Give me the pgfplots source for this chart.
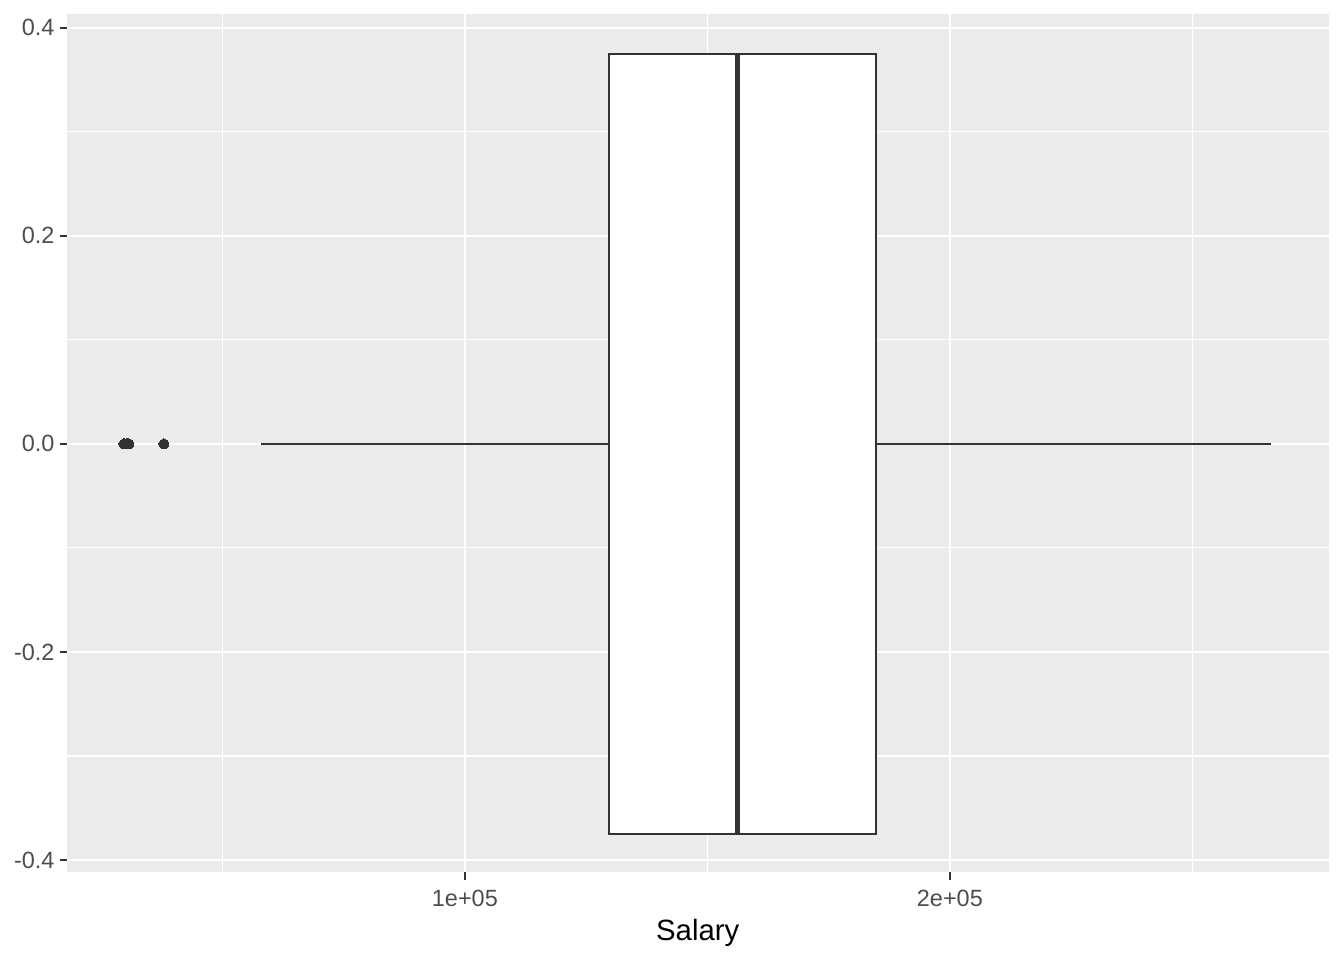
\documentclass[border=0pt]{standalone}
\usepackage{pgfplots}
\pgfplotsset{compat=1.18}
\usepgfplotslibrary{statistics}
\usepackage{fontspec}
\setmainfont{Liberation Sans}
\definecolor{ggbg}{HTML}{EBEBEB}
\definecolor{gg20}{HTML}{333333}
\definecolor{gg30}{HTML}{4D4D4D}
\begin{document}
\begin{tikzpicture}
\useasboundingbox (0,0) rectangle (504pt,360pt);
\begin{axis}[
  at={(25.1pt,32.9pt)}, anchor=south west,
  scale only axis, width=473.1pt, height=321.9pt,
  xmin=17938, xmax=278082, ymin=-0.41183, ymax=0.41346,
  axis background/.style={fill=ggbg},
  axis line style={draw=none},
  xtick={100000,200000}, xticklabels={1e+05,2e+05},
  minor xtick={50000,150000,250000},
  ytick={-0.4,-0.2,0,0.2,0.4}, yticklabels={-0.4,-0.2,0.0,0.2,0.4},
  minor ytick={-0.3,-0.1,0.1,0.3},
  xtick pos=lower, ytick pos=left,
  tick align=outside, major tick length=2.75pt, minor tick length=0pt,
  tick style={gg20, line width=0.8pt},
  grid=both,
  major grid style={white, line width=0.85pt},
  minor grid style={white, line width=0.42pt},
  ticklabel style={font=\fontsize{8.8}{10}\selectfont, text=gg30},
  xticklabel style={anchor=north, inner sep=0pt, yshift=-3.8pt},
  yticklabel style={anchor=east, inner sep=0pt, xshift=-1.7pt},
  xlabel={Salary},
  xlabel style={font=\fontsize{11}{13}\selectfont, text=black, at={(axis description cs:0.5,0)}, anchor=center, yshift=-22.8pt},
  scaled x ticks=false,
  clip=false,
]
\addplot[
  boxplot prepared={
    draw position=0,
    lower whisker=57938,
    lower quartile=129691,
    median=156289,
    upper quartile=184742,
    upper whisker=266186,
    box extend=0.75,
    whisker extend=0,
    every median/.style={line width=1.8pt},
  },
  draw=gg20, fill=white, line width=0.75pt,
  mark=*, mark size=1.9pt, mark options={fill=gg20, draw=gg20, line width=0pt},
] coordinates {(0,29691) (0,29900) (0,30150) (0,30400) (0,30722) (0,37938)};
\end{axis}
\end{tikzpicture}
\end{document}
